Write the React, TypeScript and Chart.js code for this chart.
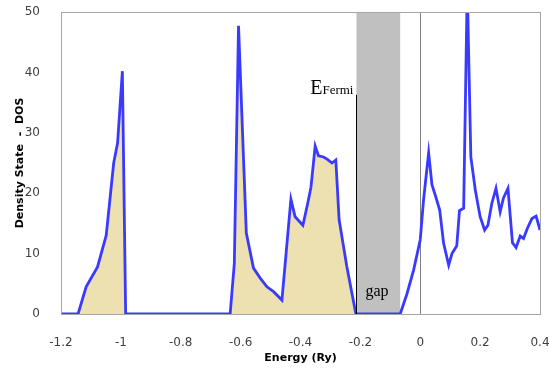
import React, { useEffect, useRef } from "react";
import { Chart, registerables } from "chart.js";

Chart.register(...registerables);

// Energy (Ry) and DOS values
const energy: number[] = [
  -1.2, -1.143, -1.116, -1.078, -1.049, -1.024, -1.011, -0.995, -0.984,
  -0.635, -0.621, -0.607, -0.581, -0.557, -0.534, -0.512, -0.49, -0.462,
  -0.432, -0.418, -0.392, -0.376, -0.365, -0.351, -0.34, -0.323, -0.31,
  -0.295, -0.282, -0.271, -0.245, -0.215,
  -0.067, -0.044, -0.022, 0, 0.011, 0.028, 0.039, 0.05, 0.065, 0.078,
  0.095, 0.106, 0.122, 0.131, 0.145, 0.157, 0.169, 0.184, 0.2, 0.215,
  0.226, 0.239, 0.253, 0.267, 0.278, 0.293, 0.308, 0.32, 0.334, 0.345,
  0.358, 0.373, 0.387, 0.4,
];
const dos: number[] = [
  0, 0, 4.5, 7.8, 13, 25, 28.3, 40.2, 0,
  0, 8.4, 47.7, 13.4, 7.6, 5.9, 4.5, 3.7, 2.3,
  19, 16.1, 14.7, 18.3, 21, 27.8, 26.2, 26, 25.6,
  25, 25.5, 15.6, 7.8, 0,
  0, 3.4, 7.3, 12.3, 18.9, 26.7, 21.4, 19.7, 17.2, 11.7,
  8.1, 10, 11.3, 17.1, 17.5, 54, 26, 20.5, 16.1, 13.9,
  14.7, 18.3, 20.8, 16.9, 19.2, 20.8, 11.8, 11, 12.9, 12.5,
  14.2, 15.8, 16.2, 13.9,
];

// Occupied states (below the Fermi level) are shaded
const fermiEnergy = -0.213;
const gapStart = -0.213;
const gapEnd = -0.067;
const fermiLineTop = 36.3;

const xTicks: number[] = [-1.2, -1, -0.8, -0.6, -0.4, -0.2, 0, 0.2, 0.4];
const yTicks: number[] = [0, 10, 20, 30, 40, 50];

const xTitle = "Energy (Ry)";
const yTitle = "Density State  -  DOS";
const fermiLabelMain = "E";
const fermiLabelSub = "Fermi";
const gapLabel = "gap";

const overlayPlugin = {
  id: "dosOverlay",
  beforeDatasetsDraw(chart: any) {
    const { ctx, chartArea, scales } = chart;
    const x = scales.x;
    const x0 = x.getPixelForValue(gapStart);
    const x1 = x.getPixelForValue(gapEnd);
    ctx.save();
    ctx.fillStyle = "#C0C0C0";
    ctx.fillRect(x0, chartArea.top, x1 - x0, chartArea.bottom - chartArea.top);
    // zero energy line
    const xz = x.getPixelForValue(0);
    ctx.strokeStyle = "#808080";
    ctx.lineWidth = 1;
    ctx.beginPath();
    ctx.moveTo(Math.round(xz) + 0.5, chartArea.top);
    ctx.lineTo(Math.round(xz) + 0.5, chartArea.bottom);
    ctx.stroke();
    // gap label
    ctx.fillStyle = "#000000";
    ctx.font = "16px 'Liberation Serif'";
    ctx.textAlign = "left";
    ctx.textBaseline = "alphabetic";
    ctx.fillText(gapLabel, x0 + 9, scales.y.getPixelForValue(2.9));
    ctx.restore();
  },
  afterDatasetsDraw(chart: any) {
    const { ctx, chartArea, scales } = chart;
    const x = scales.x;
    const y = scales.y;
    ctx.save();
    // plot border
    ctx.strokeStyle = "#A6A6A6";
    ctx.lineWidth = 1;
    ctx.strokeRect(
      Math.round(chartArea.left) + 0.5,
      Math.round(chartArea.top) + 0.5,
      Math.round(chartArea.right - chartArea.left),
      Math.round(chartArea.bottom - chartArea.top)
    );
    // Fermi level line
    const xf = x.getPixelForValue(fermiEnergy);
    ctx.strokeStyle = "#000000";
    ctx.beginPath();
    ctx.moveTo(Math.round(xf) + 0.5, y.getPixelForValue(fermiLineTop));
    ctx.lineTo(Math.round(xf) + 0.5, chartArea.bottom);
    ctx.stroke();
    // Fermi label
    const base = y.getPixelForValue(fermiLineTop) - 1;
    ctx.fillStyle = "#000000";
    ctx.textBaseline = "alphabetic";
    ctx.textAlign = "right";
    ctx.font = "13px 'Liberation Serif'";
    const subW = ctx.measureText(fermiLabelSub).width;
    const subRight = xf - 3;
    ctx.fillText(fermiLabelSub, subRight, base);
    ctx.font = "20px 'Liberation Serif'";
    ctx.fillText(fermiLabelMain, subRight - subW, base);
    ctx.restore();
  },
};

export default function App() {
  const canvasRef = useRef<HTMLCanvasElement | null>(null);

  useEffect(() => {
    if (!canvasRef.current) return;
    const allPoints = energy.map((e, i) => ({ x: e, y: dos[i] }));
    const filledPoints = allPoints.filter((p) => p.x <= fermiEnergy);
    const chart = new Chart(canvasRef.current, {
      type: "line",
      data: {
        datasets: [
          {
            data: filledPoints,
            order: 2,
            borderWidth: 0,
            borderColor: "rgba(0,0,0,0)",
            backgroundColor: "#EEE1B1",
            fill: "origin",
            pointRadius: 0,
            tension: 0,
          },
          {
            data: allPoints,
            order: 1,
            borderColor: "#3A3AFF",
            borderWidth: 2.8,
            fill: false,
            pointRadius: 0,
            tension: 0,
          },
        ],
      },
      options: {
        animation: false,
        responsive: false,
        maintainAspectRatio: false,
        layout: { padding: { top: 12, right: 9, left: 0, bottom: 0 } },
        plugins: {
          legend: { display: false },
          tooltip: { enabled: false },
        },
        scales: {
          x: {
            type: "linear",
            min: -1.2,
            max: 0.4,
            grid: { display: false },
            border: { display: false },
            afterBuildTicks: (scale: any) => {
              scale.ticks = xTicks.map((v) => ({ value: v }));
            },
            afterFit: (scale: any) => {
              scale.height = 55;
              scale.paddingLeft = 0;
              scale.paddingRight = 0;
            },
            ticks: {
              padding: 14,
              color: "#404040",
              font: { family: "'DejaVu Sans'", size: 12 },
              maxRotation: 0,
              callback: (v: any) => String(Math.round(Number(v) * 10) / 10),
            },
            title: {
              display: true,
              text: xTitle,
              color: "#000000",
              font: { family: "'DejaVu Sans'", size: 11, weight: "bold" },
              padding: { top: 0, bottom: 4.4 },
            },
          },
          y: {
            type: "linear",
            min: 0,
            max: 50,
            grid: { display: false },
            border: { display: false },
            afterBuildTicks: (scale: any) => {
              scale.ticks = yTicks.map((v) => ({ value: v }));
            },
            afterFit: (scale: any) => {
              scale.width = 61;
              scale.paddingTop = 0;
              scale.paddingBottom = 0;
            },
            ticks: {
              padding: 13,
              color: "#404040",
              font: { family: "'DejaVu Sans'", size: 12 },
              callback: (v: any) => String(v),
            },
            title: {
              display: true,
              text: yTitle,
              color: "#000000",
              font: { family: "'DejaVu Sans'", size: 11, weight: "bold" },
              padding: { top: 13.4, bottom: 0 },
            },
          },
        },
      },
      plugins: [overlayPlugin],
    });
    return () => chart.destroy();
  }, []);

  return (
    <div style={{ position: "absolute", left: 0, top: 0, width: 549, height: 369, background: "#ffffff" }}>
      <canvas ref={canvasRef} width={549} height={369} style={{ display: "block" }} />
    </div>
  );
}
